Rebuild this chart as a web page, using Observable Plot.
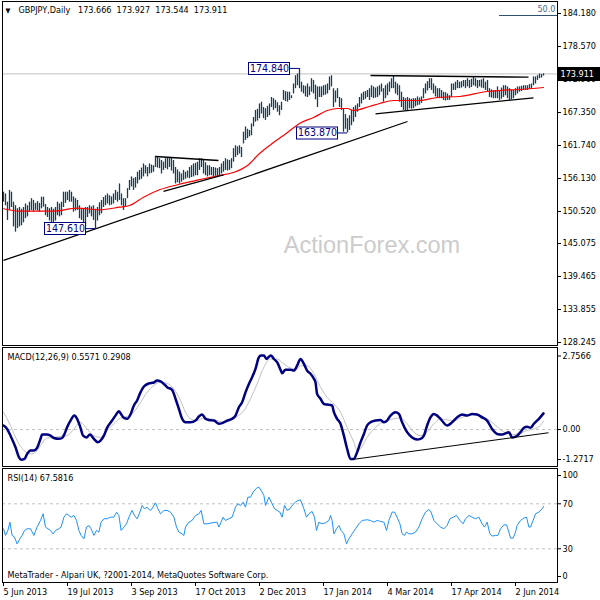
<!DOCTYPE html>
<html>
<head>
<meta charset="utf-8">
<script src="https://cdn.jsdelivr.net/npm/d3@7"></script>
<script src="https://cdn.jsdelivr.net/npm/@observablehq/plot@0.6"></script>
<style>
  body { margin: 0; background: white; }
  #chart { width: 600px; height: 600px; background: white; }
  #chart svg { display: block; }
</style>
</head>
<body>
<div id="chart"></div>
<script>
// ---------- DATA ----------
const titleSymbol = "GBPJPY,Daily";
const titleValues = ["173.666", "173.927", "173.544", "173.911"];
const lastClose = 173.911;
const fiboLevel = 183.84;
const fiboLabel = "50.0";
const fiboStartIdx = 248;
const priceTicks = [184.180, 178.570, 172.960, 167.350, 161.740, 156.130, 150.520, 145.075, 139.465, 133.855, 128.245];
const dateTicks = [0, 32, 64, 96, 128, 160, 192, 224, 256];
const dateLabels = ["5 Jun 2013", "19 Jul 2013", "3 Sep 2013", "17 Oct 2013", "2 Dec 2013", "17 Jan 2014", "4 Mar 2014", "17 Apr 2014", "2 Jun 2014"];

const hi = [
153.8,153.5,152.1,154.1,153.8,152.1,151.5,151.0,151.2,150.9,
151.2,151.8,151.5,152.1,152.7,152.4,151.9,152.2,151.9,152.95,
152.95,151.7,151.2,151.0,151.2,150.9,151.2,152.1,151.8,152.1,
153.8,153.8,153.8,154.1,153.8,153.0,152.7,152.4,151.5,150.9,
151.0,151.2,151.2,151.5,151.3,151.5,150.9,151.2,152.0,152.4,
152.9,153.2,153.5,153.2,153.0,153.5,154.1,153.8,155.2,153.5,
152.7,152.7,154.4,155.8,156.4,156.1,156.3,157.2,157.5,157.9,
158.6,158.3,158.0,158.6,158.4,158.3,159.9,159.8,159.5,159.2,
158.9,159.5,159.6,159.7,159.7,159.2,158.0,157.6,157.2,156.9,
157.5,157.2,157.4,158.0,158.3,158.6,158.7,158.9,159.5,159.5,
159.2,158.8,158.3,158.3,158.0,158.0,157.9,157.8,158.0,158.6,
159.0,159.5,159.3,159.2,159.5,161.2,161.7,161.5,161.7,161.4,
164.0,164.9,164.5,164.3,165.4,166.5,167.7,167.9,168.8,169.1,
168.2,168.0,168.4,168.8,169.9,169.7,169.4,169.0,168.5,169.1,
171.1,170.9,170.8,170.8,170.2,172.2,173.6,173.9,174.84,172.5,
171.9,171.8,172.2,171.7,173.1,172.8,172.0,171.7,171.7,171.7,
171.9,172.0,172.2,173.4,173.6,171.4,171.0,171.4,169.9,169.7,
168.0,167.0,166.3,166.8,167.7,168.2,168.5,168.8,169.9,170.5,
170.8,170.9,171.1,171.4,171.9,171.7,171.5,171.7,171.9,172.2,
171.4,171.9,172.2,172.5,173.1,173.6,172.5,172.2,171.9,170.8,
169.9,169.7,169.9,169.7,169.6,169.7,169.7,170.0,169.8,170.0,
171.4,172.2,172.6,173.1,173.1,172.2,171.8,171.4,171.4,171.1,
170.8,170.7,170.5,170.2,172.2,172.2,172.5,172.8,172.5,172.6,
172.8,172.8,173.1,172.8,173.0,173.4,173.1,172.8,172.8,172.9,
173.1,172.5,172.8,171.4,171.2,171.1,171.1,171.7,171.1,171.5,
171.9,171.9,171.7,171.4,171.2,171.1,171.4,171.7,171.7,171.8,
171.9,171.9,171.9,172.1,172.2,173.4,173.4,173.6,173.9,173.8,173.927
];
const lo = [
152.1,151.5,149.0,150.7,151.2,147.9,147.0,147.6,147.9,148.1,
148.6,149.3,149.6,150.4,150.7,150.4,150.7,150.6,150.4,150.97,
151.25,149.8,149.5,148.9,148.6,148.4,148.9,149.8,149.6,149.8,
151.2,151.9,152.4,152.1,152.1,150.4,150.6,150.7,149.3,149.0,
148.6,147.9,149.5,150.1,149.6,149.0,147.61,148.9,149.8,150.1,
151.2,151.5,151.8,151.5,151.6,151.8,152.4,152.1,152.4,151.5,
150.7,151.2,152.7,154.1,154.7,154.1,154.5,155.2,155.8,156.0,
156.4,156.9,156.4,156.9,157.0,157.2,158.0,157.9,157.8,156.9,
157.5,157.8,157.6,158.0,157.4,156.9,155.2,155.4,155.2,155.5,
155.8,156.0,156.2,156.1,156.3,156.4,156.6,156.6,157.5,158.0,
156.9,156.6,156.4,156.6,156.6,156.4,156.5,156.4,156.6,156.9,
157.2,157.5,157.4,157.5,157.8,158.9,159.7,160.0,160.3,159.7,
162.0,162.6,162.9,163.2,163.4,164.9,165.7,165.9,166.3,167.1,
166.3,166.0,166.5,166.8,168.2,167.7,168.0,167.4,166.8,167.7,
169.4,169.2,169.1,169.4,169.7,170.5,171.4,171.9,171.4,170.8,
170.5,170.0,169.9,170.2,170.8,170.5,169.5,168.2,169.9,169.9,
170.2,170.3,170.5,171.1,171.7,168.2,169.0,169.7,168.2,167.7,
164.0,164.5,163.87,164.3,165.1,165.7,166.5,167.4,168.2,168.8,
169.4,169.6,169.9,169.4,169.9,169.7,169.8,169.9,170.2,170.8,
169.1,169.7,170.2,170.8,171.4,171.4,170.5,170.2,169.1,168.2,
167.7,167.6,167.7,168.0,167.9,168.0,168.3,168.5,168.6,168.9,
169.7,170.5,171.0,171.4,171.1,170.5,170.0,169.7,169.7,169.7,
169.4,169.3,169.4,169.4,169.9,171.1,171.1,171.4,171.4,171.5,
171.7,171.4,171.7,171.4,171.6,171.9,171.7,171.4,171.7,171.5,
171.4,171.1,170.8,169.9,169.8,169.7,169.7,169.7,169.4,169.6,
169.9,170.2,169.7,169.4,169.5,169.7,170.2,170.5,170.8,170.9,
171.1,171.1,171.1,171.3,171.4,171.9,172.2,172.8,173.1,173.2,173.544
];

// 50-period moving average (red), sampled
const maIdx = [0,8,25,37,48,58,63,70,78,87,93,108,115,122,128,135,142,148,155,162,167,172,175,183,188,195,208,217,228,242,248,258,270];
const maVal = [150.98,150.57,150.57,151.08,150.81,151.25,151.54,152.95,154.21,155.06,155.54,156.64,157.15,158.34,160.38,162.25,163.95,165.48,166.50,167.69,168.03,168.03,167.69,168.37,168.88,169.39,169.39,169.90,170.07,170.92,171.09,171.26,171.60];

// drawn trend lines: [startIdx, startPrice, endIdx, endPrice]
const trendStartIdx = [0, 76, 80, 183.5, 186];
const trendStartPrice = [142.19, 159.87, 153.93, 173.64, 167.13];
const trendEndIdx = [202, 107.5, 110, 262.5, 265];
const trendEndPrice = [165.82, 159.19, 156.73, 173.35, 169.85];

// price labels
const labelIdx = [148, 172, 46];
const labelPrice = [174.84, 163.87, 147.61];
const labelText = ["174.840", "163.870", "147.610"];

// MACD
const macdLabel = "MACD(12,26,9) 0.5571 0.2908";
const macdMin = -1.2717, macdMax = 2.7566;
const macdIdx = [0,1.8,3.5,6,7.7,8.8,10.5,11.8,13.5,15.2,16.8,18.5,19.3,21.8,23.5,25.2,27.7,29.3,30.5,31.8,33.5,35.5,36.8,38.5,39.8,41.5,43.2,45.2,47.2,48.5,50.2,51.8,54.3,56,57.7,58.5,60.2,61.8,63.5,65.2,66.8,68.5,70.2,72.7,75.2,76.8,78.5,80.2,81.8,84.3,86,87.7,89.3,91,93.5,96,97.7,99.3,101,102.7,105.2,107.7,109.3,111.8,114.3,116,117.7,119.3,121,122.7,124.3,126,127.7,128.8,130.2,131.5,132.7,133.8,135.2,136.8,138.5,139.3,141,143.5,145.2,146.8,148.5,150.2,151.8,153.5,155.2,156,156.8,158.5,160.2,161.8,164.3,165.2,166.8,168.5,170.2,171.8,173.5,175.2,176.8,178.5,180.2,181.8,183.5,186,188.5,190.2,191.8,193.5,196,197.7,199.3,201.8,204.3,206.8,208.5,210.2,211.8,213.5,215.2,216.8,218.5,221.8,224.3,226.8,229.3,231.8,234.3,236.8,239.3,241.8,244.3,246.8,249.3,251,252.7,254.3,256.8,258.5,260.2,261.8,263.5,265.2,267.7,270];
const macdVal = [0.14,0.02,-0.21,-0.61,-0.95,-1.04,-1.01,-0.84,-0.72,-0.72,-0.63,-0.32,-0.17,-0.17,-0.21,-0.29,-0.32,-0.29,-0.15,0.08,0.31,0.48,0.37,0.06,-0.21,-0.27,-0.17,-0.32,-0.44,-0.38,-0.21,0.06,0.31,0.48,0.63,0.56,0.40,0.37,0.52,0.83,1.00,1.28,1.48,1.59,1.62,1.69,1.66,1.57,1.46,1.37,1.06,0.71,0.37,0.25,0.25,0.31,0.45,0.52,0.37,0.33,0.31,0.20,0.22,0.31,0.37,0.48,0.77,0.94,1.28,1.57,1.80,2.09,2.49,2.55,2.55,2.43,2.51,2.55,2.43,2.32,2.06,1.94,2.06,2.06,2.03,2.20,2.43,2.26,2.03,1.92,1.75,1.63,1.23,1.06,0.88,0.86,0.83,0.60,0.37,0.20,-0.21,-0.66,-1.01,-1.01,-0.78,-0.44,-0.15,0.14,0.25,0.31,0.33,0.25,0.31,0.48,0.60,0.54,0.25,-0.09,-0.27,-0.34,-0.32,-0.21,0.14,0.42,0.54,0.48,0.37,0.14,0.25,0.42,0.52,0.48,0.54,0.52,0.42,0.31,0.02,-0.15,-0.17,-0.13,-0.09,-0.27,-0.21,-0.09,0.06,0.10,0.06,0.20,0.37,0.557];
const sigIdx = [0,3.5,6.8,10.2,13.5,16,18.5,21.8,25.2,28.5,31.8,35.2,38.5,41.8,45.2,48.5,51.8,55.2,58.5,61.8,65.2,68.5,71.8,75.2,78.5,81.8,85.2,88.5,91,93.5,96.8,100.2,103.5,106.8,110.2,113.5,116.8,120.2,123.5,126.8,130.2,133.5,136.8,140.2,143.5,146.8,148.5,151.8,155.2,158.5,161.8,165.2,168.5,171.8,175.2,176.8,178.5,181.8,185.2,188.5,191.8,195.2,198.5,201.8,205.2,208.5,211.8,215.2,218.5,221.8,225.2,228.5,231.8,235.2,238.5,241.8,245.2,248.5,251.8,255.2,258.5,261.8,265.2,268.5,270];
const sigVal = [0.60,0.14,-0.38,-0.72,-0.84,-0.78,-0.55,-0.29,-0.27,-0.24,-0.21,0.02,0.25,0.02,-0.21,-0.27,-0.03,0.20,0.40,0.45,0.60,0.94,1.28,1.52,1.63,1.59,1.40,1.00,0.60,0.37,0.31,0.40,0.37,0.31,0.25,0.31,0.45,0.65,1.06,1.57,2.15,2.43,2.43,2.26,2.12,2.09,2.20,2.20,1.92,1.46,1.11,0.88,0.60,0.08,-0.44,-0.72,-0.66,-0.27,0.02,0.22,0.31,0.37,0.40,0.20,-0.09,-0.21,-0.09,0.20,0.37,0.33,0.31,0.40,0.48,0.52,0.48,0.37,0.20,-0.01,-0.13,-0.17,-0.13,-0.03,0.02,0.14,0.29];
const macdTrendIdx = [174.5, 272.5];
const macdTrendVal = [-1.03, -0.11];

// RSI
const rsiLabel = "RSI(14) 67.5816";
const rsiIdx = [0,1,2.2,3.2,4.3,5.5,6.8,8.2,9.3,10.5,11.8,13.5,15.2,16.8,18.5,19.8,21,22.2,23.5,24.8,26,27.7,28.8,30.2,31.5,32.7,33.8,35.2,36.5,37.7,38.8,40.2,41.5,42.7,43.8,45.2,46.5,47.7,48.8,50.2,51.8,53.5,55.2,56.5,57.7,58.8,60.2,61.5,62.7,64.3,65.5,66.8,68.2,69.3,70.5,71.8,73.2,74.3,76,77.2,78.5,80.2,81.8,83.5,85.2,86.5,87.7,89.3,90.2,91,92.7,94.3,96,97.7,98.8,100.2,101.8,104.3,106.8,107.7,108.8,109.8,111,112.7,114.3,116,117.2,118.5,119.8,121,122.2,123.5,124.8,126.5,127.7,128.8,130.2,131,132.7,134.3,135.5,136.8,138.2,139.3,140.5,141.8,143.2,144.3,146,147.2,148.5,150.2,151.5,152.7,154.3,155.5,156.5,157.7,159.3,161,162.7,163.5,164.3,165.2,166.5,167.7,168.8,170.2,171.5,172.7,174.3,176,177.7,179.3,181.8,183.5,185.2,186.8,188.5,190.2,191.5,192.7,194.3,195.5,196.8,198.2,199.3,200.5,201.5,202.7,204.3,206,207.7,209.3,211,212.7,213.8,215.2,216.8,218.5,220.2,221.8,223.2,224.8,226.5,228.2,229.8,231,232.7,234.3,236,237.7,239.3,240.5,241.8,243.2,244.3,246,247.2,248.5,250.2,251.5,252.7,253.5,254.8,256,256.8,258.5,260.2,261.5,262.7,263.5,264.8,266,267.7,269.3,270];
const rsiVal = [47.8,41.9,46.3,53.7,41.9,40.4,34.4,38.9,41.9,46.3,47.8,47.8,41.9,49.3,55.2,61.1,49.3,47.8,46.3,43.3,46.3,47.8,49.3,58.1,61.1,59.6,58.1,59.6,55.2,46.3,41.9,38.9,49.3,50.7,47.8,41.9,46.3,44.8,53.7,56.7,56.7,58.1,58.1,62.6,59.6,46.3,49.3,52.2,58.1,64.1,59.6,56.7,62.6,68.5,65.6,67.0,64.1,65.6,70.9,65.6,61.1,64.1,64.1,62.6,58.1,49.3,44.8,43.3,41.9,49.3,53.7,55.2,59.6,61.1,64.1,52.2,52.2,53.1,53.7,49.3,53.7,58.1,55.2,56.7,58.1,67.0,70.0,68.5,71.5,67.0,75.9,75.9,80.4,83.9,84.8,81.9,77.4,68.5,75.9,70.0,65.6,64.1,62.6,58.1,68.5,64.1,65.6,68.5,71.5,73.0,73.5,65.6,58.1,61.1,63.2,58.1,46.3,53.7,52.2,53.1,55.2,59.6,55.2,43.3,47.8,50.7,46.3,43.3,34.4,38.9,43.3,47.8,52.2,55.2,55.8,55.2,53.7,55.2,54.3,53.7,46.3,55.2,62.6,62.6,58.1,52.2,43.3,41.9,44.8,43.3,43.3,44.8,49.3,56.7,62.6,65.0,62.6,55.2,52.2,49.3,47.8,50.7,56.7,58.1,59.6,55.2,52.2,56.7,59.6,58.1,56.7,58.1,52.2,49.3,53.7,43.3,41.3,41.9,41.9,47.8,51.3,51.3,44.8,39.5,39.5,44.8,50.7,55.2,57.3,58.1,49.3,49.3,55.2,61.1,62.6,65.6,67.6];
const rsiLevels = [70, 30];
const copyright = "MetaTrader - Alpari UK, ?2001-2014, MetaQuotes Software Corp.";

// ---------- BUILD ----------
const FONT = '"DejaVu Sans Condensed", "DejaVu Sans", sans-serif';
const BAR = "#173d5a";
const NAVY = "#000080";
const NB = "\u00A0";
const xDom = [-0.5, 277];
const common = {width: 600, marginLeft: 2, marginRight: 43,
  style: {fontFamily: FONT, fontSize: "9px", background: "white", color: "black"}};
const axisOpts = {anchor: "right", label: null, tickSize: 3, tickPadding: 2};

const zip = (a, b) => a.map((v, k) => ({i: v, v: b[k]})).filter(d => d.v !== undefined);
const bars = hi.map((h, i) => ({i, hi: h, lo: lo[i]}));
const ma = zip(maIdx, maVal);
const trends = trendStartIdx.map((s, k) => ({x1: s, y1: trendStartPrice[k], x2: trendEndIdx[k], y2: trendEndPrice[k]}));
const labels = labelIdx.map((v, k) => ({i: v, p: labelPrice[k], t: labelText[k]}));
const titleText = titleSymbol + NB + NB + NB + titleValues.join(NB + NB);

const main = Plot.plot({
  ...common, height: 346, marginTop: 1, marginBottom: 1,
  x: {domain: xDom, axis: null},
  y: {domain: [127.735, 186.22], axis: null},
  marks: [
    Plot.text(["ActionForex.com"], {frameAnchor: "middle", dx: 92, dy: 72, fontSize: 23.5, fill: "#cccccc", fontFamily: '"Liberation Sans", Arial, sans-serif'}),
    Plot.ruleY([lastClose], {stroke: "#c0c0c0"}),
    Plot.ruleY([fiboLevel], {x1: fiboStartIdx, x2: xDom[1], stroke: "#2f4f6f", strokeWidth: 1}),
    Plot.ruleX(bars, {x: "i", y1: "lo", y2: "hi", stroke: BAR, strokeWidth: 1.3}),
    Plot.line(ma, {x: "i", y: "v", stroke: "#ff0000", strokeWidth: 1.2, curve: "monotone-x"}),
    Plot.link(trends, {x1: "x1", y1: "y1", x2: "x2", y2: "y2", stroke: "black", strokeWidth: 1.3}),
    Plot.ruleY(labels, {y: "p", x1: "i", x2: "i", insetLeft: -9, insetRight: 0, stroke: NAVY, strokeWidth: 1}),
    Plot.ruleY(labels, {y: "p", x1: "i", x2: "i", insetLeft: -51, insetRight: 9, stroke: NAVY, strokeWidth: 13}),
    Plot.ruleY(labels, {y: "p", x1: "i", x2: "i", insetLeft: -50, insetRight: 10, stroke: "white", strokeWidth: 11}),
    Plot.text(labels, {x: "i", y: "p", text: "t", dx: -30, fill: NAVY, fontSize: 10.5}),
    Plot.frame({stroke: "black"}),
    Plot.axisY({...axisOpts, ticks: priceTicks, tickFormat: d => d.toFixed(3)}),
    Plot.ruleY([lastClose], {insetLeft: 555, insetRight: -43, stroke: "black", strokeWidth: 14}),
    Plot.text([lastClose], {y: d => d, frameAnchor: "right", dx: 3, textAnchor: "start", fill: "white", text: d => d.toFixed(3)}),
    Plot.text(["\u25BC"], {frameAnchor: "top-left", dx: 3, dy: 9, lineAnchor: "middle", textAnchor: "start", fontSize: 7, fill: "black"}),
    Plot.text([titleText], {frameAnchor: "top-left", dx: 16, dy: 9, lineAnchor: "middle", textAnchor: "start", fill: "black"}),
    Plot.text([fiboLabel], {frameAnchor: "top-right", dx: -2, dy: 8, lineAnchor: "middle", textAnchor: "end", fill: "#4a6a8a"})
  ]
});

const macd = zip(macdIdx, macdVal);
const sig = zip(sigIdx, sigVal);
const macdTrend = [{x1: macdTrendIdx[0], y1: macdTrendVal[0], x2: macdTrendIdx[1], y2: macdTrendVal[1]}];
const macdPlot = Plot.plot({
  ...common, height: 121, marginTop: 1, marginBottom: 1,
  x: {domain: xDom, axis: null},
  y: {domain: [macdMin, 2.8255], axis: null},
  marks: [
    Plot.ruleY([0], {stroke: "#c0c0c0", strokeDasharray: "3,3"}),
    Plot.line(sig, {x: "i", y: "v", stroke: "#c0c0c0", strokeWidth: 1, curve: "monotone-x"}),
    Plot.line(macd, {x: "i", y: "v", stroke: NAVY, strokeWidth: 2.5, curve: "monotone-x"}),
    Plot.link(macdTrend, {x1: "x1", y1: "y1", x2: "x2", y2: "y2", stroke: "black", strokeWidth: 1}),
    Plot.frame({stroke: "black"}),
    Plot.text([macdLabel], {frameAnchor: "top-left", dx: 5, dy: 10, lineAnchor: "middle", textAnchor: "start", fill: "black"}),
    Plot.axisY({...axisOpts, ticks: [0], tickFormat: d => d.toFixed(2)}),
    Plot.axisY({...axisOpts, ticks: [macdMax], dy: 6.5, tickFormat: d => d.toFixed(4)}),
    Plot.axisY({...axisOpts, ticks: [macdMin], dy: -7, tickFormat: d => d.toFixed(4)})
  ]
});

const rsi = zip(rsiIdx, rsiVal);
const rsiPlot = Plot.plot({
  ...common, height: 133, marginTop: 1, marginBottom: 18,
  x: {domain: xDom, label: null},
  y: {domain: [0.04, 101.38], axis: null, label: null},
  marks: [
    Plot.ruleY(rsiLevels, {stroke: "#c0c0c0", strokeDasharray: "3,3"}),
    Plot.line(rsi, {x: "i", y: "v", stroke: "#1e90ff", strokeWidth: 1}),
    Plot.frame({stroke: "black"}),
    Plot.text([rsiLabel], {frameAnchor: "top-left", dx: 5, dy: 9.5, lineAnchor: "middle", textAnchor: "start", fill: "black"}),
    Plot.text([copyright], {frameAnchor: "bottom-left", dx: 5, dy: -7, lineAnchor: "middle", textAnchor: "start", fill: "black"}),
    Plot.axisY({...axisOpts, ticks: rsiLevels, tickFormat: d => String(d)}),
    Plot.axisY({...axisOpts, ticks: [100], dy: 5.5, tickFormat: d => String(d)}),
    Plot.axisY({...axisOpts, ticks: [0], dy: -6, tickFormat: d => String(d)}),
    Plot.axisX({ticks: dateTicks, anchor: "bottom", label: null, tickSize: 4, tickPadding: 2, textAnchor: "start", tickFormat: d => dateLabels[dateTicks.indexOf(d)]})
  ]
});

const root = document.getElementById("chart");
root.append(main, macdPlot, rsiPlot);
</script>
</body>
</html>
